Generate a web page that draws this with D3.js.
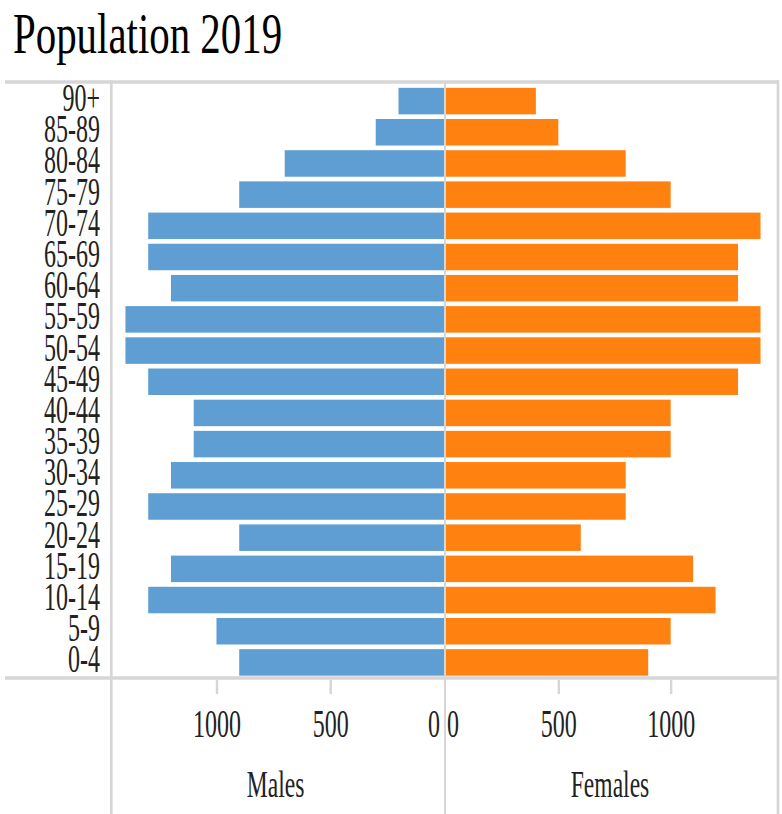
<!DOCTYPE html>
<html>
<head>
<meta charset="utf-8">
<script src="https://cdn.jsdelivr.net/npm/d3@7/dist/d3.min.js"></script>
<style>
  html, body { margin: 0; padding: 0; background: #fff; }
  svg { display: block; }
  text { font-family: "Liberation Serif", "Times New Roman", serif; }
</style>
</head>
<body>
<svg id="chart" width="782" height="814"></svg>
<script>
// Age groups, top to bottom
const ageGroups = ["90+", "85-89", "80-84", "75-79", "70-74", "65-69", "60-64", "55-59",
  "50-54", "45-49", "40-44", "35-39", "30-34", "25-29", "20-24", "15-19", "10-14", "5-9", "0-4"];

// Population by age group
const males   = [200, 300, 700, 900, 1300, 1300, 1200, 1400, 1400, 1300, 1100, 1100, 1200, 1300, 900, 1200, 1300, 1000, 900];
const females = [400, 500, 800, 1000, 1400, 1300, 1300, 1400, 1400, 1300, 1000, 1000, 800, 800, 600, 1100, 1200, 1000, 900];

const maleTicks = [1000, 500, 0];
const femaleTicks = [0, 500, 1000];
const axisMax = 1460;

const title = "Population 2019";
const maleTitle = "Males";
const femaleTitle = "Females";

const rows = ageGroups.map((g, i) => ({ group: g, male: males[i], female: females[i] }));

const svg = d3.select("#chart");
const gridColor = "#d6d6d6";
const textColor = "#222";
const squeeze = 0.6;

// Layout
const frameTop = 82, frameBottom = 678;
const leftEdge = 111.3, rightEdge = 778;
const maleZero = 444, femaleZero = 446;

const y = d3.scaleBand()
  .domain(ageGroups)
  .range([85.5, 678])
  .paddingInner(0.15)
  .paddingOuter(0.075);

const xM = d3.scaleLinear().domain([0, axisMax]).range([maleZero, leftEdge + 0.5]);
const xF = d3.scaleLinear().domain([0, axisMax]).range([femaleZero, 774]);

// Title
svg.append("text")
  .attr("transform", "translate(13,53) scale(0.73,1)")
  .attr("font-size", 56)
  .attr("fill", "#000")
  .text(title);

// Frame lines
const frame = svg.append("g").attr("stroke", gridColor);
frame.append("line").attr("x1", 5).attr("x2", 779).attr("y1", frameTop).attr("y2", frameTop).attr("stroke-width", 3.5);
frame.append("line").attr("x1", 5).attr("x2", 779).attr("y1", frameBottom).attr("y2", frameBottom).attr("stroke-width", 3.5);
frame.append("line").attr("x1", leftEdge).attr("x2", leftEdge).attr("y1", frameTop - 1.7).attr("y2", 814).attr("stroke-width", 2.7);
frame.append("line").attr("x1", rightEdge).attr("x2", rightEdge).attr("y1", frameTop - 1.7).attr("y2", 814).attr("stroke-width", 2.7);
frame.append("line").attr("x1", 445).attr("x2", 445).attr("y1", frameTop).attr("y2", 814).attr("stroke-width", 2);

// Bars
svg.append("g").selectAll("rect")
  .data(rows).join("rect")
  .attr("x", d => xM(d.male))
  .attr("width", d => maleZero - xM(d.male))
  .attr("y", d => y(d.group))
  .attr("height", y.bandwidth())
  .attr("fill", "#5e9ed2");

svg.append("g").selectAll("rect")
  .data(rows).join("rect")
  .attr("x", femaleZero)
  .attr("width", d => xF(d.female) - femaleZero)
  .attr("y", d => y(d.group))
  .attr("height", y.bandwidth())
  .attr("fill", "#ff8110");

// Age labels
const yAxis = svg.append("g")
  .attr("transform", "translate(100,0)")
  .call(d3.axisLeft(y).tickSize(0).tickPadding(0));
yAxis.select(".domain").remove();
yAxis.selectAll("text")
  .attr("x", 0)
  .attr("dy", null)
  .attr("y", 10)
  .attr("text-anchor", "end")
  .attr("transform", `scale(${squeeze},1)`)
  .attr("font-family", "Liberation Serif, Times New Roman, serif")
  .attr("font-size", 40)
  .attr("fill", textColor);

// Bottom axes
function styleAxis(g, zeroAnchor, zeroShift) {
  g.select(".domain").remove();
  g.selectAll(".tick line")
    .attr("stroke", gridColor)
    .attr("stroke-width", 2.4)
    .attr("opacity", d => d === 0 ? 0 : 1);
  g.selectAll(".tick text")
    .attr("dy", null)
    .attr("y", 57)
    .attr("x", d => d === 0 ? zeroShift / squeeze : 0)
    .attr("text-anchor", d => d === 0 ? zeroAnchor : "middle")
    .attr("transform", `scale(${squeeze},1)`)
    .attr("font-family", "Liberation Serif, Times New Roman, serif")
    .attr("font-size", 40)
    .attr("fill", textColor);
}

svg.append("g")
  .attr("transform", `translate(0,${frameBottom + 2})`)
  .call(d3.axisBottom(xM).tickValues(maleTicks).tickSize(14).tickFormat(d3.format("d")))
  .call(g => styleAxis(g, "end", -4.5));

svg.append("g")
  .attr("transform", `translate(0,${frameBottom + 2})`)
  .call(d3.axisBottom(xF).tickValues(femaleTicks).tickSize(14).tickFormat(d3.format("d")))
  .call(g => styleAxis(g, "start", 0.5));

// Axis titles
svg.append("text")
  .attr("transform", `translate(${(leftEdge + maleZero) / 2 - 2},797) scale(0.62,1)`)
  .attr("text-anchor", "middle")
  .attr("font-size", 38)
  .attr("fill", textColor)
  .text(maleTitle);

svg.append("text")
  .attr("transform", `translate(${(femaleZero + rightEdge) / 2 - 2},797) scale(0.62,1)`)
  .attr("text-anchor", "middle")
  .attr("font-size", 38)
  .attr("fill", textColor)
  .text(femaleTitle);
</script>
</body>
</html>
